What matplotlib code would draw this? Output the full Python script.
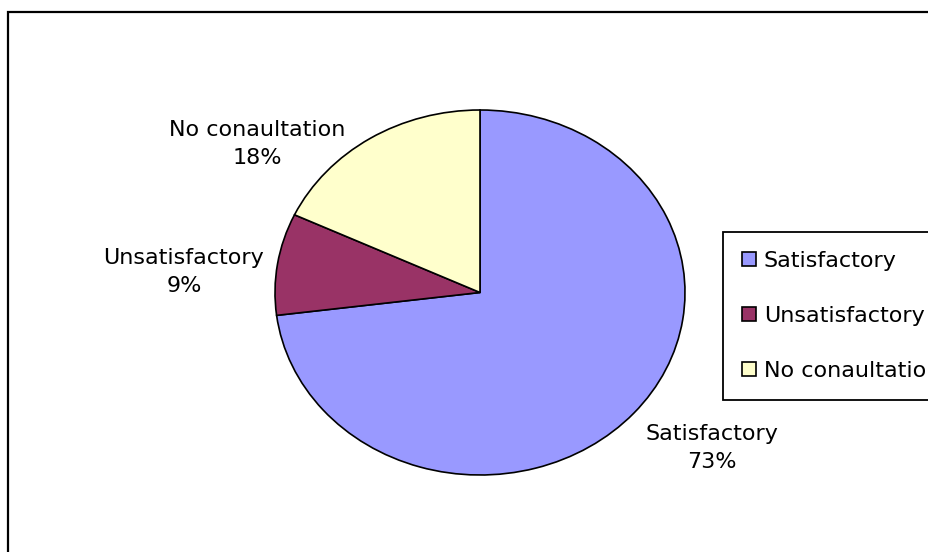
import matplotlib
matplotlib.use("Agg")
import matplotlib.pyplot as plt
from matplotlib.patches import Rectangle

categories = ["Satisfactory", "Unsatisfactory", "No conaultation"]
values = [73, 9, 18]
colors = ["#9999FF", "#993366", "#FFFFCC"]

W, H = 929, 552
fig = plt.figure(figsize=(W / 100, H / 100), dpi=100)
fig.patch.set_facecolor("white")

# outer chart border (extends beyond the cropped image on right/bottom)
fig.patches.append(Rectangle((8 / W, -0.2), 1.5, (1 - 12 / H) + 0.2,
                             transform=fig.transFigure, fill=False,
                             edgecolor="black", linewidth=1.6))

ax = fig.add_axes([275 / W, 77 / H, 410 / W, 365 / H])
wedges, _ = ax.pie(values, startangle=90, counterclock=False, colors=colors,
                   wedgeprops=dict(edgecolor="black", linewidth=1.2, clip_on=False))
ax.set_aspect("auto")
ax.set_xlim(-1, 1)
ax.set_ylim(-1, 1)
ax.axis("off")

# data labels (category + percent)
total = sum(values)
label_pos = [(712, 448), (184, 272), (257, 144)]
for cat, v, (px, py) in zip(categories, values, label_pos):
    fig.text(px / W, 1 - py / H, f"{cat}\n{round(100 * v / total)}%",
             ha="center", va="center", fontsize=16, linespacing=1.5,
             color="black")

leg = fig.legend(wedges, categories, loc="upper left",
                 bbox_to_anchor=(723 / W, 1 - 232 / H), borderaxespad=0,
                 fontsize=16, frameon=True, fancybox=False, shadow=False,
                 framealpha=1, edgecolor="black", handlelength=0.63,
                 handleheight=0.63, handletextpad=0.36, borderpad=0.85,
                 labelspacing=1.57)
leg.get_frame().set_linewidth(1.3)

fig.savefig("out.png", dpi=100, facecolor="white")
